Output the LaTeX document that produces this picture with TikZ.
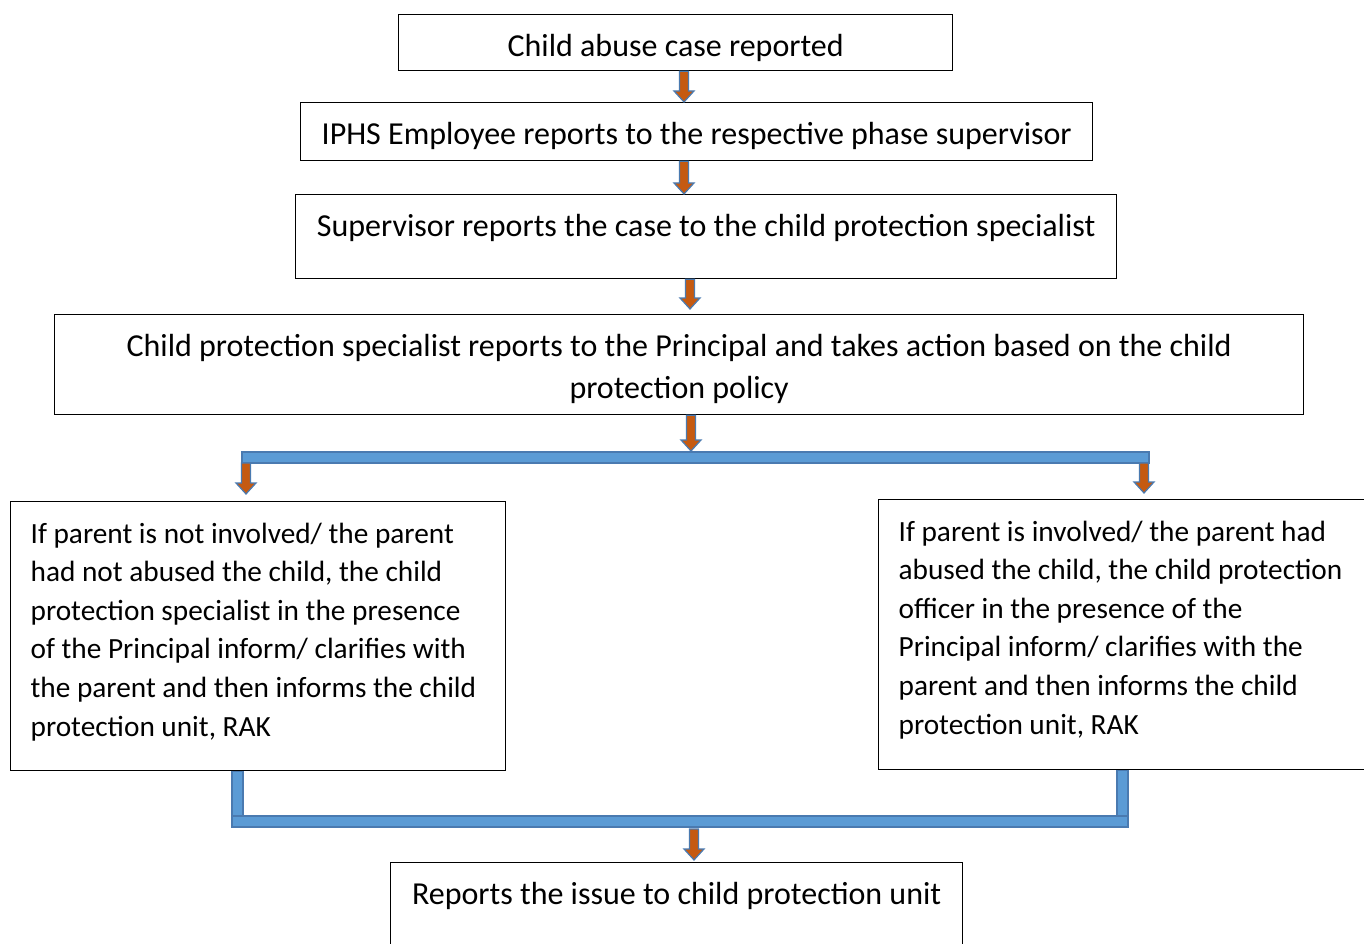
\documentclass[tikz,border=0pt]{standalone}
\usepackage{fontspec}
\setmainfont{Carlito}
\usetikzlibrary{calc}
\definecolor{arrowfill}{HTML}{C55A11}
\definecolor{arrowline}{HTML}{4A7AB0}
\definecolor{barfill}{HTML}{5B9BD5}
\tikzset{
  stepbox/.style={draw=black, line width=1.3pt, inner sep=0pt, anchor=north west,
    font=\fontsize{32}{39}\selectfont},
  sidebox/.style={stepbox, inner xsep=20pt, font=\fontsize{29.3}{38.6}\selectfont},
  blockbar/.style={fill=barfill, draw=arrowline, line width=1.2pt},
  blockhead/.style={fill=arrowfill, draw=arrowline, line width=1.2pt, line join=miter},
}
% text of a box: width, height, alignment, text
\newcommand{\boxtext}[4]{\parbox[c][#2pt][t]{#1pt}{#3\vspace*{14.5pt}\strut #4}}
% block arrow going down at x=#1, from #2 to #3
\newcommand{\downblock}[3]{%
  \path[blockhead] let \p1=(#2), \p2=(#3) in
    ({#1pt-4.5pt},\y1) -- ({#1pt+4.5pt},\y1) -- ({#1pt+4.5pt},\y2+11pt)
    -- ({#1pt+10pt},\y2+11pt) -- (#1pt,\y2) -- ({#1pt-10pt},\y2+11pt)
    -- ({#1pt-4.5pt},\y2+11pt) -- cycle;}

\begin{document}
\begin{tikzpicture}[x=1pt,y=-1pt]
\useasboundingbox (0,0) rectangle (1364,944);

\node[stepbox] (report) at (398,14) {\boxtext{554}{56}{\centering}{Child abuse case reported}};
\node[stepbox] (employee) at (300,102) {\boxtext{792}{58}{\centering}{IPHS Employee reports to the respective phase supervisor}};
\node[stepbox] (supervisor) at (295,194) {\boxtext{821}{84}{\centering}{Supervisor reports the case to the child protection specialist}};
\node[stepbox] (specialist) at (54,314) {\boxtext{1249}{100}{\centering}{Child protection specialist reports to the Principal and takes action based on the child\\[3pt] protection policy}};
\node[sidebox] (notinvolved) at (10,501) {\boxtext{455}{269}{\raggedright}{If parent is not involved/ the parent\\ had not abused the child, the child\\ protection specialist in the presence\\ of the Principal inform/ clarifies with\\ the parent and then informs the child\\ protection unit, RAK}};
\node[sidebox] (involved) at (878,499) {\boxtext{456}{270}{\raggedright}{If parent is involved/ the parent had\\ abused the child, the child protection\\ officer in the presence of the\\ Principal inform/ clarifies with the\\ parent and then informs the child\\ protection unit, RAK}};
\node[stepbox] (unit) at (390,862) {\boxtext{572}{100}{\centering}{Reports the issue to child protection unit}};

% fork below the specialist
\coordinate (forkL) at (242,452);
\coordinate (forkR) at (1149,463);
\path[blockbar] (forkL) rectangle (forkR);
\coordinate (tipL) at (246,494);
\coordinate (tipR) at (1144,493);
\coordinate (tipS) at (691,451);

% join above the unit
\coordinate (joinL) at (232,816);
\coordinate (joinR) at (1128,827);
\path[blockbar] (notinvolved.south -| joinL) rectangle ++(11,45);
\path[blockbar] (involved.south -| joinR) rectangle ++(-11,46);
\path[blockbar] (joinL) rectangle (joinR);
\coordinate (tipU) at (694,860);

\downblock{684}{report.south}{employee.north}
\downblock{684}{employee.south}{supervisor.north}
\downblock{690}{supervisor.south}{690,309}
\downblock{691}{specialist.south}{tipS}
\downblock{246}{forkR}{tipL}
\downblock{1144}{forkR}{tipR}
\downblock{694}{694,829}{tipU}
\end{tikzpicture}
\end{document}
